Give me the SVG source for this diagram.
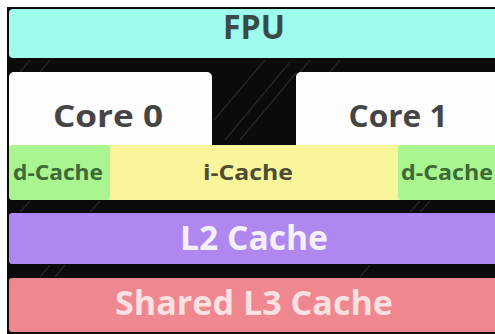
<svg xmlns="http://www.w3.org/2000/svg" width="495" height="334" viewBox="0 0 495 334">
<style>
.lbl{font-family:"Open Sans","Liberation Sans",sans-serif;font-weight:700;text-anchor:middle}
.big{font-size:34px}
.core{font-size:31px;fill:#454545}
.small{font-size:21px}
.stripe{stroke:#3a3a3a;stroke-width:1.2;opacity:0.6}
</style>
<rect x="0" y="0" width="495" height="334" fill="#ffffff"/>
<rect x="7" y="7" width="500" height="330" fill="#0b0b0b"/>
<g id="stripes">
<line class="stripe" x1="225" y1="140" x2="290" y2="62"/>
<line class="stripe" x1="240" y1="140" x2="296" y2="73"/>
<line class="stripe" x1="214" y1="120" x2="265" y2="60"/>
<line class="stripe" x1="20" y1="72" x2="30" y2="60"/>
<line class="stripe" x1="40" y1="72" x2="50" y2="60"/>
<line class="stripe" x1="300" y1="72" x2="310" y2="60"/>
<line class="stripe" x1="330" y1="72" x2="340" y2="60"/>
<line class="stripe" x1="20" y1="212" x2="30" y2="201"/>
<line class="stripe" x1="90" y1="212" x2="100" y2="201"/>
<line class="stripe" x1="410" y1="212" x2="420" y2="201"/>
<line class="stripe" x1="420" y1="212" x2="430" y2="201"/>
<line class="stripe" x1="40" y1="277" x2="50" y2="265"/>
<line class="stripe" x1="55" y1="277" x2="65" y2="265"/>
<line class="stripe" x1="360" y1="277" x2="370" y2="265"/>
</g>
<g id="fpu">
<rect x="9" y="9" width="500" height="49" rx="4" fill="#9ffbec"/>
<text class="lbl big" x="254" y="39" fill="#3a4a48" textLength="62" lengthAdjust="spacingAndGlyphs">FPU</text>
</g>
<g id="core0">
<rect x="9" y="72" width="203" height="85" rx="5" fill="#fdfdfd"/>
<text class="lbl core" x="108" y="127" textLength="110" lengthAdjust="spacingAndGlyphs">Core 0</text>
</g>
<g id="core1">
<rect x="296" y="72" width="210" height="85" rx="5" fill="#fdfdfd"/>
<text class="lbl core" x="398" y="127" textLength="99" lengthAdjust="spacingAndGlyphs">Core 1</text>
</g>
<g id="icache">
<rect x="100" y="145" width="310" height="55" rx="3" fill="#f8f59a"/>
<text class="lbl small" x="248" y="180" fill="#4d4d35" textLength="90" lengthAdjust="spacingAndGlyphs">i-Cache</text>
</g>
<g id="dcache0">
<rect x="9" y="145" width="101" height="55" rx="3" fill="#a9f590"/>
<text class="lbl small" x="58" y="180" fill="#3d6a36" textLength="90" lengthAdjust="spacingAndGlyphs">d-Cache</text>
</g>
<g id="dcache1">
<rect x="398" y="145" width="110" height="55" rx="3" fill="#a9f590"/>
<text class="lbl small" x="447" y="180" fill="#3d6a36" textLength="92" lengthAdjust="spacingAndGlyphs">d-Cache</text>
</g>
<g id="l2">
<rect x="9" y="213" width="500" height="51" rx="3" fill="#ae87f1"/>
<text class="lbl big" x="254" y="250" fill="#f6f0fd" textLength="148" lengthAdjust="spacingAndGlyphs">L2 Cache</text>
</g>
<g id="l3">
<rect x="9" y="278" width="500" height="54" rx="3" fill="#ef8790"/>
<text class="lbl big" x="254" y="315" fill="#fde0e0" textLength="278" lengthAdjust="spacingAndGlyphs">Shared L3 Cache</text>
</g>
<g id="connectors"></g>
</svg>
